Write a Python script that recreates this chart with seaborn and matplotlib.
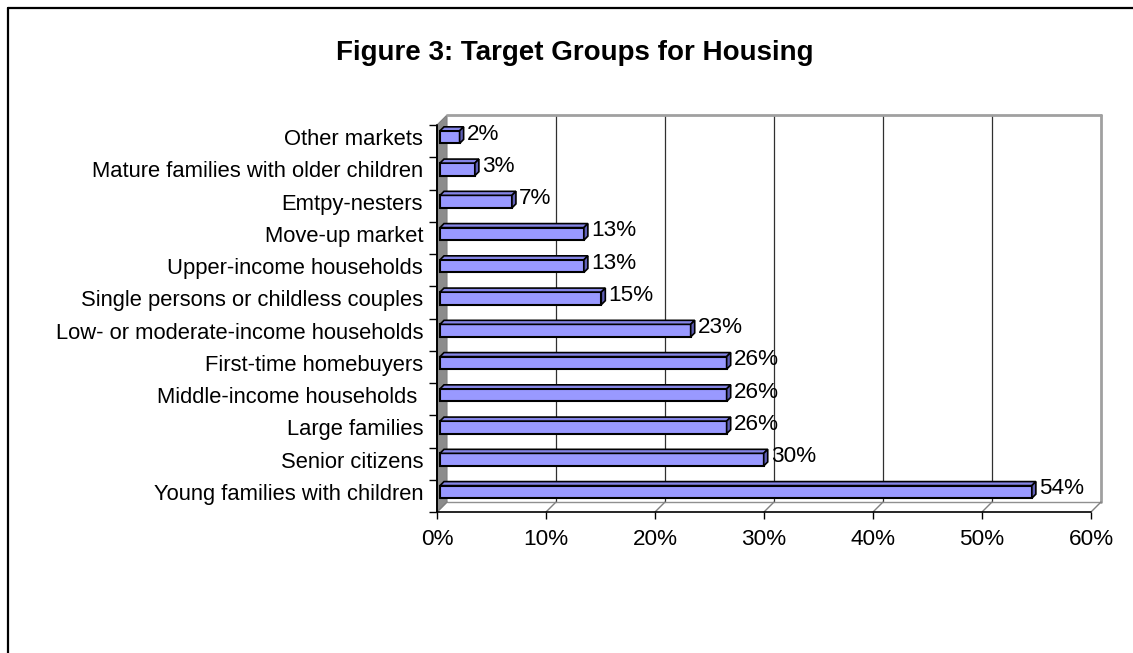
import matplotlib
matplotlib.use("Agg")
import matplotlib.pyplot as plt
from matplotlib.patches import Polygon
from matplotlib.lines import Line2D
from matplotlib.transforms import ScaledTranslation
import seaborn as sns
import pandas as pd

# ---------------- data ----------------
categories = ["Other markets", "Mature families with older children", "Emtpy-nesters",
              "Move-up market", "Upper-income households",
              "Single persons or childless couples",
              "Low- or moderate-income households", "First-time homebuyers",
              "Middle-income households ", "Large families", "Senior citizens",
              "Young families with children"]
values = [1.8, 3.2, 6.6, 13.2, 13.2, 14.8, 23.0, 26.3, 26.3, 26.3, 29.7, 54.3]
value_labels = ["2%", "3%", "7%", "13%", "13%", "15%", "23%", "26%", "26%", "26%", "30%", "54%"]
x_ticks = [0, 10, 20, 30, 40, 50, 60]
x_tick_labels = ["0%", "10%", "20%", "30%", "40%", "50%", "60%"]
title = "Figure 3: Target Groups for Housing"

# ---------------- style ----------------
W, H = 1133, 653
sns.set_style("white")
plt.rcParams["font.family"] = ["Liberation Sans", "DejaVu Sans"]
plt.rcParams["text.color"] = "black"
plt.rcParams["xtick.labelcolor"] = "black"
plt.rcParams["ytick.labelcolor"] = "black"
FS = 16.2
FS_CAT = 15.8

fig = plt.figure(figsize=(W / 100, H / 100), dpi=100)
fig.patch.set_facecolor("white")

def px_rect(x0, y0, x1, y1):
    return [x0 / W, 1 - y1 / H, (x1 - x0) / W, (y1 - y0) / H]

# front plane of the 3-D plot area
FX0, FY0, FX1, FY1 = 437, 125, 1091, 512
ax = fig.add_axes(px_rect(FX0, FY0, FX1, FY1))
ax.set_facecolor("none")

df = pd.DataFrame({"category": categories, "value": values})
sns.barplot(data=df, x="value", y="category", orient="h", color="#9999FF",
            saturation=1, width=0.39, edgecolor="black", linewidth=1.5,
            ax=ax, zorder=3)

XMIN, XMAX = x_ticks[0], x_ticks[-1]
n = len(categories)
ax.set_xlim(XMIN, XMAX)
ax.set_ylim(n - 0.5, -0.5)
for s in ax.spines.values():
    s.set_visible(False)
ax.set_xlabel("")
ax.set_ylabel("")

# pixel -> data conversions
sx = (XMAX - XMIN) / (FX1 - FX0)
sy = n / (FY1 - FY0)
D = 10  # depth offset in px (up-right)
ymin_front = n - 0.5
ytop_front = -0.5

def P(x, y, dx=0, dy=0):
    """data point plus pixel offset (dy positive = up)"""
    return (x + dx * sx, y - dy * sy)

# side wall (gray)
ax.add_patch(Polygon([P(0, ymin_front), P(0, ymin_front, D, D),
                      P(0, ytop_front, D, D), P(0, ytop_front)],
                     closed=True, facecolor="#8c8c8c", edgecolor="#808080",
                     lw=0.8, zorder=1, clip_on=False))

# back wall gridlines
for t in x_ticks[1:-1]:
    ax.add_line(Line2D([P(t, 0, D)[0]] * 2,
                       [P(0, ymin_front, 0, D)[1], P(0, ytop_front, 0, D)[1]],
                       color="#303030", lw=0.9, zorder=1, clip_on=False))
# back wall outline (right + top)
ax.add_line(Line2D([P(XMAX, 0, D)[0]] * 2,
                   [P(0, ymin_front, 0, D)[1], P(0, ytop_front, 0, D)[1]],
                   color="#a0a0a0", lw=2, zorder=1, clip_on=False))
ax.add_line(Line2D([P(0, 0, D)[0], P(XMAX, 0, D)[0]],
                   [P(0, ytop_front, 0, D)[1]] * 2,
                   color="#a0a0a0", lw=2, zorder=1, clip_on=False))
# floor
ax.add_line(Line2D([P(0, 0, D)[0], P(XMAX, 0, D)[0]],
                   [P(0, ymin_front, 0, D)[1]] * 2,
                   color="#909090", lw=1, zorder=1, clip_on=False))
for t in x_ticks:
    a, b = P(t, ymin_front), P(t, ymin_front, D, D)
    ax.add_line(Line2D([a[0], b[0]], [a[1], b[1]], color="#808080", lw=1,
                       zorder=1, clip_on=False))

# front axes lines
ax.add_line(Line2D([XMIN, XMAX], [ymin_front] * 2, color="black", lw=1.2,
                   zorder=4, clip_on=False))
ax.add_line(Line2D([XMIN, XMIN], [ytop_front, ymin_front], color="black", lw=1.4,
                   zorder=4, clip_on=False))

# 3-D bar faces
BDX, BDY = 3, 4        # bar position offset (px)
BD = 4                 # bar depth (px)
for patch, v, lab in zip(ax.patches, values, value_labels):
    x0 = patch.get_x() + BDX * sx
    y0 = patch.get_y() - BDY * sy
    w, h = patch.get_width(), patch.get_height()
    patch.set_x(x0)
    patch.set_y(y0)
    top = y0           # smaller y = higher on screen (inverted axis)
    bot = y0 + h
    x1 = x0 + w
    ax.add_patch(Polygon([P(x0, top), P(x0, top, BD, BD), P(x1, top, BD, BD), P(x1, top)],
                         closed=True, facecolor="#8585E6", edgecolor="black",
                         lw=1.2, zorder=3, clip_on=False))
    ax.add_patch(Polygon([P(x1, top), P(x1, top, BD, BD), P(x1, bot, BD, BD), P(x1, bot)],
                         closed=True, facecolor="#5F5FB5", edgecolor="black",
                         lw=1.2, zorder=3, clip_on=False))
    cx, cy = P(x1, (top + bot) / 2, BD + 3, 3)
    ax.text(cx, cy, lab, ha="left", va="center", fontsize=FS, color="black",
            zorder=5, clip_on=False)

# ticks
ax.set_xticks(x_ticks)
ax.set_xticklabels(x_tick_labels, fontsize=FS)
ax.tick_params(axis="x", which="major", direction="out", length=5, width=1,
               color="black", pad=7, bottom=True)
ax.set_yticks(range(n))
ax.set_yticklabels(categories, fontsize=FS_CAT)
ax.tick_params(axis="y", which="major", length=0, pad=10)
ax.set_yticks([i - 0.5 for i in range(n + 1)], minor=True)
ax.tick_params(axis="y", which="minor", direction="out", length=6, width=1,
               color="black", left=True)
shift = ScaledTranslation(0, 0.04, fig.dpi_scale_trans)
for lbl in ax.get_yticklabels():
    lbl.set_transform(lbl.get_transform() + shift)

# title
fig.text(575 / W, 1 - 53 / H, title, ha="center", va="center",
         fontsize=20, fontweight="bold", color="black")

# outer frame (chart area border)
fig.add_artist(Line2D([8 / W, 8 / W], [0, 1 - 8 / H], transform=fig.transFigure,
                      color="black", lw=1.6))
fig.add_artist(Line2D([8 / W, 1], [1 - 8 / H, 1 - 8 / H], transform=fig.transFigure,
                      color="black", lw=1.6))

fig.savefig("out.png", dpi=100, facecolor="white")
